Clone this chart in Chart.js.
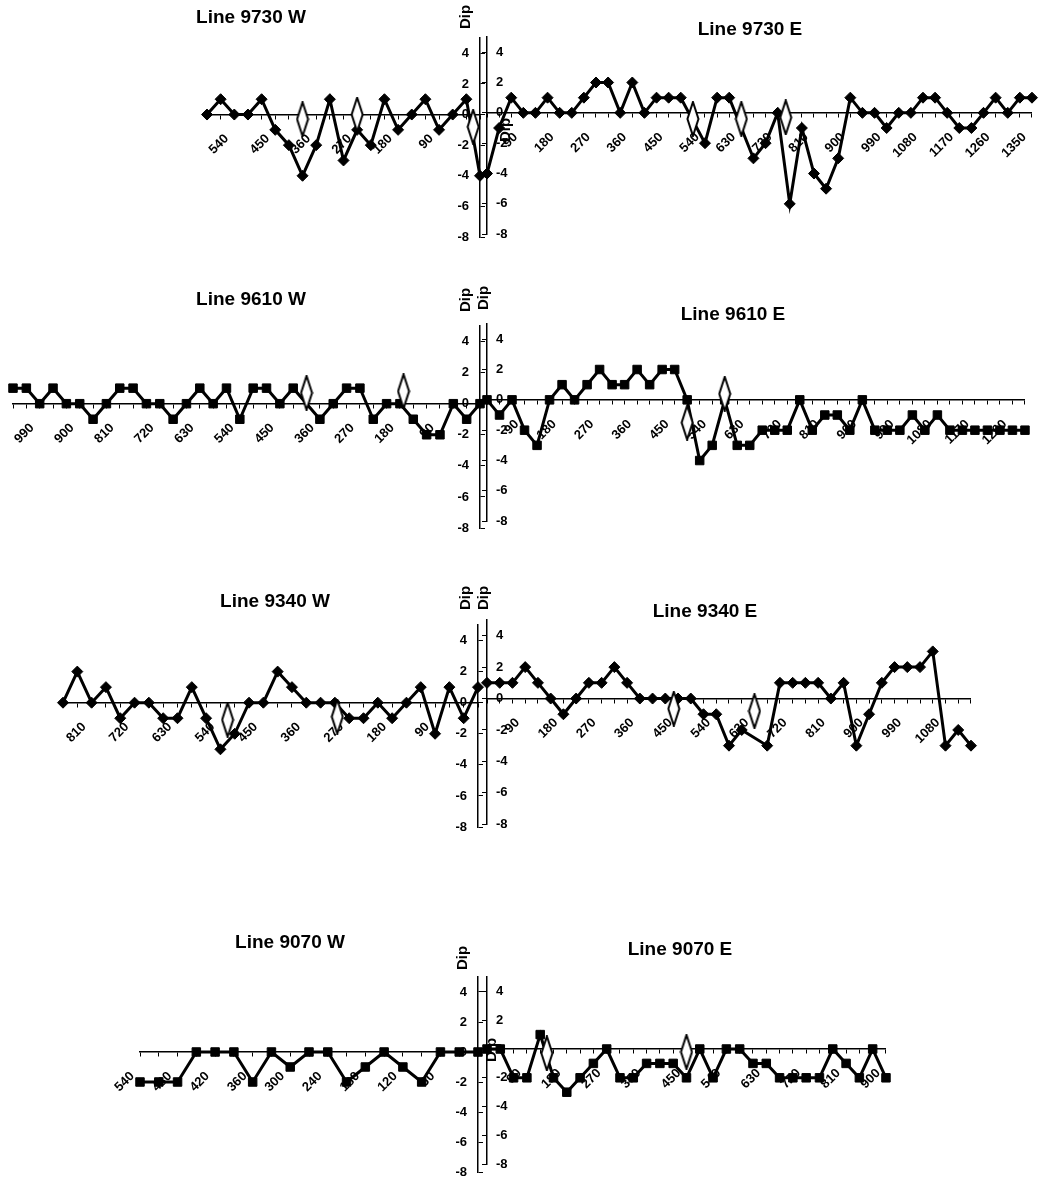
<!DOCTYPE html>
<html>
<head>
<meta charset="utf-8">
<script src="https://cdn.jsdelivr.net/npm/chart.js@4.4.0/dist/chart.umd.min.js"></script>
<style>
  body { margin: 0; background: #fff; width: 1048px; height: 1190px; position: relative; overflow: hidden; }
  canvas { position: absolute; }
</style>
</head>
<body>
<script>
// Dip tick labels shared by every panel
const yTicks = [-8, -6, -4, -2, 0, 2, 4];

// Line 9730
const dist9730W = [600, 570, 540, 510, 480, 450, 420, 390, 360, 330, 300, 270, 240, 210, 180, 150, 120, 90, 60, 30, 0];
const dip9730W = [0, 1, 0, 0, 1, -1, -2, -4, -2, 1, -3, -1, -2, 1, -1, 0, 1, -1, 0, 1, -4];
const hollowX9730W = [390, 270, 15];
const hollowY9730W = [-0.3, 0, -0.8];

const dist9730E = [0, 30, 60, 90, 120, 150, 180, 210, 240, 270, 300, 330, 360, 390, 420, 450, 480, 510, 540, 570, 600, 630, 660, 690, 720, 750, 780, 810, 840, 870, 900, 930, 960, 990, 1020, 1050, 1080, 1110, 1140, 1170, 1200, 1230, 1260, 1290, 1320, 1350];
const dip9730E = [-4, -1, 1, 0, 0, 1, 0, 0, 1, 2, 2, 0, 2, 0, 1, 1, 1, null, -2, 1, 1, null, -3, -2, 0, -6, -1, -4, -5, -3, 1, 0, 0, -1, 0, 0, 1, 1, 0, -1, -1, 0, 1, 0, 1, 1];
const hollowX9730E = [510, 630, 740];
const hollowY9730E = [-0.4, -0.4, -0.3];

// Line 9610
const dist9610W = [1050, 1020, 990, 960, 930, 900, 870, 840, 810, 780, 750, 720, 690, 660, 630, 600, 570, 540, 510, 480, 450, 420, 390, 360, 330, 300, 270, 240, 210, 180, 150, 120, 90, 60, 30, 0];
const dip9610W = [1, 1, 0, 1, 0, 0, -1, 0, 1, 1, 0, 0, -1, 0, 1, 0, 1, -1, 1, 1, 0, 1, null, -1, 0, 1, 1, -1, 0, 0, -1, -2, -2, 0, -1, 0];
const hollowX9610W = [390, 172];
const hollowY9610W = [0.7, 0.8];

const dist9610E = [0, 30, 60, 90, 120, 150, 180, 210, 240, 270, 300, 330, 360, 390, 420, 450, 480, 510, 540, 570, 600, 630, 660, 690, 720, 750, 780, 810, 840, 870, 900, 930, 960, 990, 1020, 1050, 1080, 1110, 1140, 1170, 1200, 1230, 1260, 1290];
const dip9610E = [0, -1, 0, -2, -3, 0, 1, 0, 1, 2, 1, 1, 2, 1, 2, 2, 0, -4, -3, 0, -3, -3, -2, -2, -2, 0, -2, -1, -1, -2, 0, -2, -2, -2, -1, -2, -1, -2, -2, -2, -2, -2, -2, -2];
const hollowX9610E = [480, 570];
const hollowY9610E = [-1.5, 0.4];

// Line 9340
const dist9340W = [870, 840, 810, 780, 750, 720, 690, 660, 630, 600, 570, 540, 510, 480, 450, 420, 390, 360, 330, 300, 270, 240, 210, 180, 150, 120, 90, 60, 30, 0];
const dip9340W = [0, 2, 0, 1, -1, 0, 0, -1, -1, 1, -1, -3, -2, 0, 0, 2, 1, 0, 0, 0, -1, -1, 0, -1, 0, 1, -2, 1, -1, 1];
const hollowX9340W = [525, 295];
const hollowY9340W = [-1.1, -0.9];

const dist9340E = [0, 30, 60, 90, 120, 150, 180, 210, 240, 270, 300, 330, 360, 390, 420, 450, 480, 510, 540, 570, 600, 630, 660, 690, 720, 750, 780, 810, 840, 870, 900, 930, 960, 990, 1020, 1050, 1080, 1110, 1140];
const dip9340E = [1, 1, 1, 2, 1, 0, -1, 0, 1, 1, 2, 1, 0, 0, 0, 0, 0, -1, -1, -3, -2, null, -3, 1, 1, 1, 1, 0, 1, -3, -1, 1, 2, 2, 2, 3, -3, -2, -3];
const hollowX9340E = [440, 630];
const hollowY9340E = [-0.65, -0.8];

// Line 9070
const dist9070W = [540, 510, 480, 450, 420, 390, 360, 330, 300, 270, 240, 210, 180, 150, 120, 90, 60, 30, 0];
const dip9070W = [-2, -2, -2, 0, 0, 0, -2, 0, -1, 0, 0, -2, -1, 0, -1, -2, 0, 0, 0];
const hollowX9070W = [];
const hollowY9070W = [];

const dist9070E = [0, 30, 60, 90, 120, 150, 180, 210, 240, 270, 300, 330, 360, 390, 420, 450, 480, 510, 540, 570, 600, 630, 660, 690, 720, 750, 780, 810, 840, 870, 900];
const dip9070E = [0, 0, -2, -2, 1, -2, -3, -2, -1, 0, -2, -2, -1, -1, -1, -2, 0, -2, 0, 0, -1, -1, -2, -2, -2, -2, 0, -1, -2, 0, -2];
const hollowX9070E = [135, 450];
const hollowY9070E = [-0.3, -0.2];

const FONT = '"Liberation Sans", Arial, sans-serif';

// open tall diamond used for the second series
const hollowMark = document.createElement('canvas');
hollowMark.width = 14;
hollowMark.height = 36;
const hm = hollowMark.getContext('2d');
hm.beginPath();
hm.moveTo(7, 1); hm.lineTo(12.5, 18); hm.lineTo(7, 35); hm.lineTo(1.5, 18);
hm.closePath();
hm.fillStyle = '#fff';
hm.fill();
hm.lineWidth = 2;
hm.strokeStyle = '#000';
hm.stroke();

function makePanel(p) {
  const west = p.side === 'W';
  const a = p.area;
  const cl = west ? Math.max(0, a.l - 40) : a.l - 14;
  const cr = west ? a.r + 8 : Math.min(1048, a.r + 12);
  const ct = a.t - 48;
  const cb = a.b + 6;

  const cv = document.createElement('canvas');
  cv.width = cr - cl;
  cv.height = cb - ct;
  cv.style.left = cl + 'px';
  cv.style.top = ct + 'px';
  document.body.appendChild(cv);

  const pad = west
    ? { left: a.l - cl, right: cr - a.r - 5, top: a.t - ct, bottom: cb - a.b }
    : { left: a.l - cl - 5, right: cr - a.r, top: a.t - ct, bottom: cb - a.b };

  const tickVals = [...p.dist].sort((m, n) => m - n);

  new Chart(cv, {
    type: 'line',
    data: {
      datasets: [
        {
          data: p.hx.map((x, i) => ({ x: x, y: p.hy[i] })),
          showLine: false,
          pointStyle: hollowMark,
          pointRadius: 6,
          clip: false
        },
        {
          data: p.dist.map((x, i) => ({ x: x, y: p.dip[i] })),
          borderColor: '#000',
          borderWidth: 3,
          tension: 0,
          spanGaps: true,
          pointStyle: p.marker,
          pointRadius: p.marker === 'rect' ? 6 : 5.5,
          pointBackgroundColor: '#000',
          pointBorderColor: '#000',
          pointBorderWidth: 1,
          clip: false
        }
      ]
    },
    options: {
      responsive: false,
      animation: false,
      events: [],
      layout: { padding: pad, autoPadding: false },
      plugins: { legend: { display: false }, tooltip: { enabled: false } },
      scales: {
        x: {
          type: 'linear',
          min: 0,
          max: p.xMax,
          reverse: west,
          position: { y: 0 },
          afterBuildTicks: s => { s.ticks = tickVals.map(v => ({ value: v })); },
          grid: { drawOnChartArea: false, tickLength: 4, color: '#000', lineWidth: 1 },
          border: { color: '#000', width: 1.5 },
          ticks: {
            autoSkip: false,
            minRotation: 45,
            maxRotation: 45,
            padding: 5,
            color: '#000',
            font: { family: FONT, size: 13, weight: 'bold' },
            // trailing spaces push the slanted label down-left, as in the print
            callback: v => (v !== 0 && v % p.labelStep === 0) ? v + '   ' : ''
          }
        },
        y: {
          type: 'linear',
          min: -8,
          max: 5,
          position: west ? 'right' : 'left',
          afterBuildTicks: s => { s.ticks = yTicks.map(v => ({ value: v })); },
          afterFit: s => { s.width = 5; },
          grid: { drawOnChartArea: false, tickLength: 5, color: '#000', lineWidth: 1 },
          border: { color: '#000', width: 1.5 },
          ticks: {
            mirror: true,
            padding: west ? -11 : 9,
            color: '#000',
            font: { family: FONT, size: 13, weight: 'bold' },
            callback: v => String(v)
          }
        }
      }
    },
    plugins: [{
      id: 'panelText',
      afterDraw(chart) {
        const ctx = chart.ctx;
        ctx.save();
        ctx.fillStyle = '#000';
        ctx.textAlign = 'center';
        ctx.textBaseline = 'middle';
        ctx.font = 'bold 19px ' + FONT;
        ctx.fillText(p.title, p.titleAt[0] - cl, p.titleAt[1] - ct);
        ctx.translate(p.dipAt[0] - cl, p.dipAt[1] - ct);
        ctx.rotate(-Math.PI / 2);
        ctx.font = 'bold 15px ' + FONT;
        ctx.fillText('Dip', 0, 0);
        ctx.restore();
      }
    }]
  });
}

const panels = [
  { side: 'W', title: 'Line 9730 W', dist: dist9730W, dip: dip9730W, hx: hollowX9730W, hy: hollowY9730W, marker: 'rectRot', xMax: 600, labelStep: 90,
    area: { l: 207, r: 480, t: 38, b: 237 }, titleAt: [251, 18], dipAt: [466, 17] },
  { side: 'E', title: 'Line 9730 E', dist: dist9730E, dip: dip9730E, hx: hollowX9730E, hy: hollowY9730E, marker: 'rectRot', xMax: 1350, labelStep: 90,
    area: { l: 487, r: 1040, t: 37, b: 245 }, titleAt: [750, 30], dipAt: [506, 130] },
  { side: 'W', title: 'Line 9610 W', dist: dist9610W, dip: dip9610W, hx: hollowX9610W, hy: hollowY9610W, marker: 'rect', xMax: 1050, labelStep: 90,
    area: { l: 13, r: 480, t: 326, b: 528 }, titleAt: [251, 300], dipAt: [466, 300] },
  { side: 'E', title: 'Line 9610 E', dist: dist9610E, dip: dip9610E, hx: hollowX9610E, hy: hollowY9610E, marker: 'rect', xMax: 1290, labelStep: 90,
    area: { l: 487, r: 1029, t: 324, b: 532 }, titleAt: [733, 315], dipAt: [484, 298] },
  { side: 'W', title: 'Line 9340 W', dist: dist9340W, dip: dip9340W, hx: hollowX9340W, hy: hollowY9340W, marker: 'rectRot', xMax: 870, labelStep: 90,
    area: { l: 63, r: 478, t: 625, b: 827 }, titleAt: [275, 602], dipAt: [466, 598] },
  { side: 'E', title: 'Line 9340 E', dist: dist9340E, dip: dip9340E, hx: hollowX9340E, hy: hollowY9340E, marker: 'rectRot', xMax: 1140, labelStep: 90,
    area: { l: 487, r: 975, t: 620, b: 835 }, titleAt: [705, 612], dipAt: [484, 598] },
  { side: 'W', title: 'Line 9070 W', dist: dist9070W, dip: dip9070W, hx: hollowX9070W, hy: hollowY9070W, marker: 'rect', xMax: 540, labelStep: 60,
    area: { l: 140, r: 478, t: 977, b: 1172 }, titleAt: [290, 943], dipAt: [463, 958] },
  { side: 'E', title: 'Line 9070 E', dist: dist9070E, dip: dip9070E, hx: hollowX9070E, hy: hollowY9070E, marker: 'rect', xMax: 900, labelStep: 90,
    area: { l: 487, r: 890, t: 977, b: 1175 }, titleAt: [680, 950], dipAt: [492, 1050] }
];

panels.forEach(makePanel);
</script>
</body>
</html>
